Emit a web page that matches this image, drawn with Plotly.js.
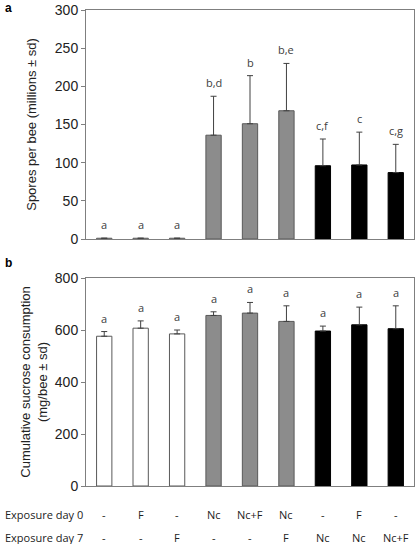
<!DOCTYPE html>
<html><head><meta charset="utf-8">
<script src="https://cdn.plot.ly/plotly-3.0.1.min.js"></script>
<style>html,body{margin:0;padding:0;background:#fff}</style>
</head><body><div id="chart" style="width:415px;height:544px"></div>
<script>
// ---- data ----
var groups = ["g1","g2","g3","g4","g5","g6","g7","g8","g9"];
var exposureDay0 = ["-","F","-","Nc","Nc+F","Nc","-","F","-"];
var exposureDay7 = ["-","-","F","-","-","F","Nc","Nc","Nc+F"];
var spores = [1, 1, 1, 136, 151, 168, 96, 97, 87];
var sporesSd = [0, 0, 0, 51, 63, 62, 35, 43, 37];
var sporesLetters = ["a","a","a","b,d","b","b,e","c,f","c","c,g"];
var sucrose = [576, 607, 585, 656, 665, 633, 596, 620, 605];
var sucroseSd = [18, 28, 15, 14, 41, 60, 19, 68, 88];
var sucroseLetters = ["a","a","a","a","a","a","a","a","a"];
var barFill = ["#ffffff","#ffffff","#ffffff","#8c8c8c","#8c8c8c","#8c8c8c","#000000","#000000","#000000"];
var barLine = ["#595959","#595959","#595959","#595959","#595959","#595959","#000000","#000000","#000000"];

var xs = groups.map(function(_, i){ return i; });

function barTrace(vals, sd, xa, ya){
  return {
    type: "bar", x: xs, y: vals, xaxis: xa, yaxis: ya, width: 0.42,
    marker: {color: barFill, line: {color: barLine, width: 1}},
    error_y: {type: "data", array: sd, arrayminus: sd.map(function(){return 0;}), symmetric: false,
              color: "#404040", thickness: 1, width: 3},
    hoverinfo: "skip", showlegend: false
  };
}

var letterFont = {family: "Open Sans, Liberation Sans, sans-serif", size: 11, color: "#404040"};
var annotations = [];
function addLetters(vals, sd, letters, xr, yr){
  letters.forEach(function(t, i){
    annotations.push({x: i, y: vals[i] + sd[i], xref: xr, yref: yr, text: t, showarrow: false,
      yanchor: "bottom", yshift: 4, font: letterFont});
  });
}
addLetters(spores, sporesSd, sporesLetters, "x", "y");
addLetters(sucrose, sucroseSd, sucroseLetters, "x2", "y2");

var rowFont = {family: "Open Sans, Liberation Sans, sans-serif", size: 11, color: "#222"};
var plotH = 476, plotW = 328;
var row0y = (486 - 514) / plotH, row7y = (486 - 537) / plotH;
annotations.push({x: -83/plotW, xref: "paper", y: row0y, yref: "paper", text: "Exposure day 0",
  showarrow: false, xanchor: "left", yanchor: "middle", font: rowFont});
annotations.push({x: -83/plotW, xref: "paper", y: row7y, yref: "paper", text: "Exposure day 7",
  showarrow: false, xanchor: "left", yanchor: "middle", font: rowFont});
exposureDay0.forEach(function(t, i){
  annotations.push({x: i, xref: "x2", y: row0y, yref: "paper", text: t, showarrow: false,
    yanchor: "middle", font: rowFont});
});
exposureDay7.forEach(function(t, i){
  annotations.push({x: i, xref: "x2", y: row7y, yref: "paper", text: t, showarrow: false,
    yanchor: "middle", font: rowFont});
});
// panel labels
var panelFont = {family: "Liberation Sans, Arial, sans-serif", size: 12, color: "#000"};
annotations.push({x: -83/plotW, xref: "paper", y: (486-8)/plotH, yref: "paper", text: "<b>a</b>",
  showarrow: false, xanchor: "left", yanchor: "middle", font: panelFont});
annotations.push({x: -83/plotW, xref: "paper", y: (486-263)/plotH, yref: "paper", text: "<b>b</b>",
  showarrow: false, xanchor: "left", yanchor: "middle", font: panelFont});

var axisColor = "#7f7f7f";
var tickFont = {family: "Liberation Sans, Arial, sans-serif", size: 14, color: "#222"};
var titleFont = {family: "Liberation Sans, Arial, sans-serif", size: 13, color: "#222"};
function xAxis(anchor){
  return {anchor: anchor, range: [-0.5, 8.5], showticklabels: false, ticks: "", showgrid: false,
    zeroline: false, showline: true, linecolor: axisColor, linewidth: 1, mirror: true, fixedrange: true};
}
var layout = {
  width: 415, height: 544,
  margin: {l: 86, r: 1, t: 10, b: 58},
  paper_bgcolor: "#fff", plot_bgcolor: "#fff",
  bargap: 0,
  xaxis: xAxis("y"),
  xaxis2: xAxis("y2"),
  yaxis: {domain: [(486-239)/476, 1], anchor: "x", range: [0, 300], dtick: 50, showgrid: false, zeroline: false,
    showline: true, linecolor: axisColor, mirror: true, ticks: "outside", ticklen: 4, tickcolor: axisColor,
    tickfont: tickFont, title: {text: "Spores per bee (millions ± sd)", font: titleFont, standoff: 15}},
  yaxis2: {domain: [0, 208/476], anchor: "x2", range: [0, 800], dtick: 200, showgrid: false, zeroline: false,
    showline: true, linecolor: axisColor, mirror: true, ticks: "outside", ticklen: 4, tickcolor: axisColor,
    tickfont: tickFont, title: {text: "Cumulative sucrose consumption<br>(mg/bee ± sd)", font: titleFont, standoff: 4}},
  annotations: annotations
};
Plotly.newPlot("chart", [barTrace(spores, sporesSd, "x", "y"), barTrace(sucrose, sucroseSd, "x2", "y2")],
  layout, {displayModeBar: false, staticPlot: true});
</script></body></html>
